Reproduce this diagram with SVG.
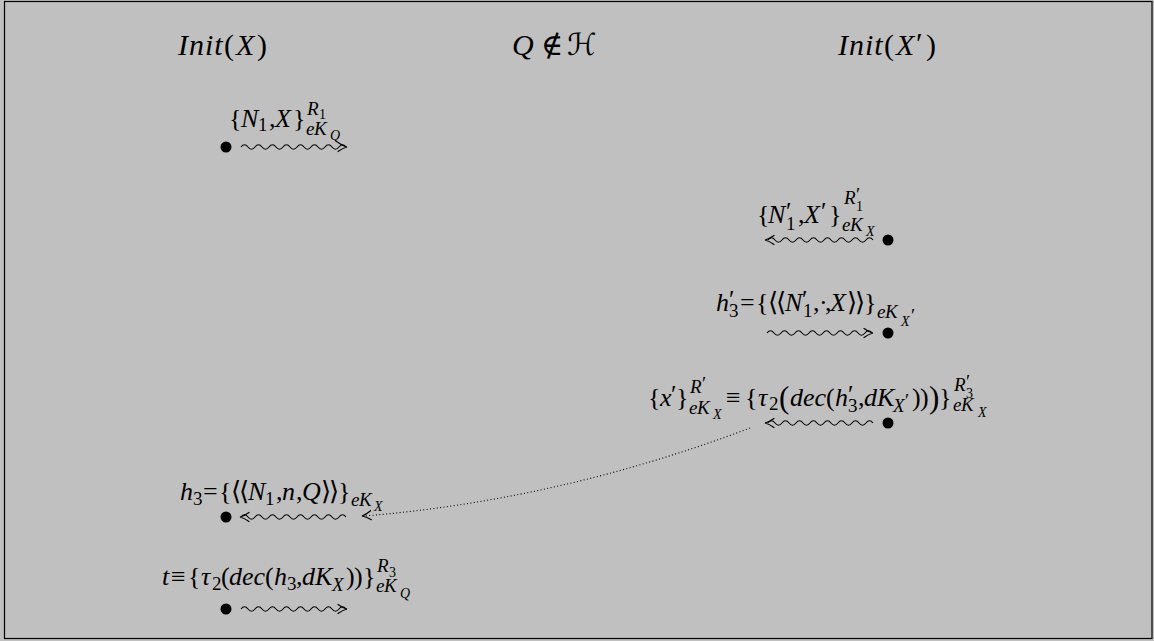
<svg xmlns="http://www.w3.org/2000/svg" xmlns:xlink="http://www.w3.org/1999/xlink" width="1154" height="641" viewBox="0 0 1154 641">
<style>
text { font-family: "Liberation Serif", "DejaVu Serif", "DejaVu Sans", serif; font-style: italic; fill: #000; font-size: 26px; }
.t { font-size: 30px; }
.s { font-size: 19px; }
.ss { font-size: 14px; }
.b { font-size: 31px; }
.p { font-size: 25px; font-style: normal; }
.ps { font-size: 19px; font-style: normal; }
.u { font-style: normal; }
.wave { fill: none; stroke: #000; stroke-width: 1.1; }
.ah { fill: none; stroke: #000; stroke-width: 1.2; stroke-linecap: round; }
.dot { fill: #000; }
.dotted { fill: none; stroke: #000; stroke-width: 1.1; stroke-dasharray: 1 2.4; }
</style>
<defs>
<path id="ah" class="ah" d="M -9 -4.5 C -5.5 -2 -2.5 -0.6 0 0 C -2.5 0.6 -5.5 2 -9 4.5"/>
</defs>
<rect x="0" y="0" width="1154" height="641" fill="#c0c0c0"/>
<rect x="4.5" y="1.5" width="1147.5" height="637" fill="none" stroke="#000" stroke-width="1.2"/>

<g id="title-init-x">
<text class="t"><tspan x="178" y="55" letter-spacing="1">Init</tspan><tspan class="u" x="224" y="55">(</tspan><tspan x="236" y="55">X</tspan><tspan class="u" x="257" y="55">)</tspan></text>
</g>
<g id="title-q">
<text class="t"><tspan x="512" y="55">Q</tspan><tspan class="u" x="541" y="55">∉</tspan><tspan x="567" y="55">ℋ</tspan></text>
</g>
<g id="title-init-x2">
<text class="t"><tspan x="838" y="55" letter-spacing="1">Init</tspan><tspan class="u" x="884" y="55">(</tspan><tspan x="896" y="55">X</tspan><tspan class="u" x="916" y="53">′</tspan><tspan class="u" x="926" y="55">)</tspan></text>
</g>

<g id="connectors">
<path class="wave" d="M 241 147 q 3.5 -4.4 7 0 t 7 0 t 7 0 t 7 0 t 7 0 t 7 0 t 7 0 t 7 0 t 7 0 t 7 0 t 7 0 t 7 0 t 7 0 t 7 0 t 7 0"/>
<use xlink:href="#ah" href="#ah" transform="translate(347,147)"/>
<path class="wave" d="M 873 240 q -3.5 -4.4 -7 0 t -7 0 t -7 0 t -7 0 t -7 0 t -7 0 t -7 0 t -7 0 t -7 0 t -7 0 t -7 0 t -7 0 t -7 0 t -7 0 t -7 0"/>
<use xlink:href="#ah" href="#ah" transform="translate(765,240) rotate(180)"/>
<path class="wave" d="M 767 333 q 3.5 -4.4 7 0 t 7 0 t 7 0 t 7 0 t 7 0 t 7 0 t 7 0 t 7 0 t 7 0 t 7 0 t 7 0 t 7 0 t 7 0 t 7 0 t 7 0"/>
<use xlink:href="#ah" href="#ah" transform="translate(873,333)"/>
<path class="wave" d="M 873 423 q -3.5 -4.4 -7 0 t -7 0 t -7 0 t -7 0 t -7 0 t -7 0 t -7 0 t -7 0 t -7 0 t -7 0 t -7 0 t -7 0 t -7 0 t -7 0 t -7 0"/>
<use xlink:href="#ah" href="#ah" transform="translate(765,423) rotate(180)"/>
<path class="wave" d="M 346 517 q -3.5 -4.4 -7 0 t -7 0 t -7 0 t -7 0 t -7 0 t -7 0 t -7 0 t -7 0 t -7 0 t -7 0 t -7 0 t -7 0 t -7 0 t -7 0 t -7 0"/>
<use xlink:href="#ah" href="#ah" transform="translate(240,517) rotate(180)"/>
<path class="wave" d="M 241 609 q 3.5 -4.4 7 0 t 7 0 t 7 0 t 7 0 t 7 0 t 7 0 t 7 0 t 7 0 t 7 0 t 7 0 t 7 0 t 7 0 t 7 0 t 7 0 t 7 0"/>
<use xlink:href="#ah" href="#ah" transform="translate(347,609)"/>
<path class="dotted" d="M 750 428 Q 560 500 364 516"/>
<use xlink:href="#ah" href="#ah" transform="translate(362,516) rotate(175)"/>
</g>

<g id="node1">
<circle class="dot" cx="226" cy="147" r="5.5"/>
<text><tspan class="u" x="229" y="127">{</tspan><tspan x="241" y="127">N</tspan><tspan class="s u" x="258" y="131">1</tspan><tspan class="u" x="269" y="127">,</tspan><tspan x="275" y="127">X</tspan><tspan class="u" x="293" y="127">}</tspan><tspan class="s" x="307" y="115">R</tspan><tspan class="ss u" x="319" y="119">1</tspan><tspan class="s" x="306" y="135">e</tspan><tspan class="s" x="314" y="135">K</tspan><tspan class="ss" x="330" y="140">Q</tspan></text>
</g>

<g id="node2">
<circle class="dot" cx="888" cy="240" r="5.5"/>
<text><tspan class="u" x="757" y="223">{</tspan><tspan x="768" y="223">N</tspan><tspan class="p" x="786" y="220">′</tspan><tspan class="s u" x="786" y="230">1</tspan><tspan class="u" x="798" y="223">,</tspan><tspan x="804" y="223">X</tspan><tspan class="p" x="821" y="220">′</tspan><tspan class="u" x="829" y="223">}</tspan><tspan class="s" x="844" y="204">R</tspan><tspan class="ps" x="856" y="201">′</tspan><tspan class="ss u" x="856" y="211">1</tspan><tspan class="s" x="842" y="231">e</tspan><tspan class="s" x="850" y="231">K</tspan><tspan class="ss" x="866" y="236">X</tspan></text>
</g>

<g id="node3">
<circle class="dot" cx="888" cy="333" r="5.5"/>
<text><tspan x="716" y="311">h</tspan><tspan class="p" x="729" y="308">′</tspan><tspan class="s u" x="729" y="317">3</tspan><tspan class="u" x="740" y="311">=</tspan><tspan class="u" x="756" y="311">{</tspan><tspan class="u" x="768" y="311">⟨</tspan><tspan class="u" x="776" y="311">⟨</tspan><tspan x="785" y="311">N</tspan><tspan class="p" x="802" y="308">′</tspan><tspan class="s u" x="803" y="317">1</tspan><tspan class="u" x="813" y="311">,</tspan><tspan class="u" x="819" y="311">·</tspan><tspan class="u" x="825" y="311">,</tspan><tspan x="830" y="311">X</tspan><tspan class="u" x="847" y="311">⟩</tspan><tspan class="u" x="855" y="311">⟩</tspan><tspan class="u" x="864" y="311">}</tspan><tspan class="s" x="877" y="318">e</tspan><tspan class="s" x="885" y="318">K</tspan><tspan class="ss" x="901" y="326">X</tspan><tspan class="ps" x="911" y="322">′</tspan></text>
</g>

<g id="node4">
<circle class="dot" cx="888" cy="423" r="5.5"/>
<text><tspan class="u" x="648" y="406">{</tspan><tspan x="660" y="406">x</tspan><tspan class="p" x="671" y="403">′</tspan><tspan class="u" x="676" y="406">}</tspan><tspan class="s" x="690" y="393">R</tspan><tspan class="ps" x="702" y="390">′</tspan><tspan class="s" x="689" y="414">e</tspan><tspan class="s" x="697" y="414">K</tspan><tspan class="ss" x="713" y="419">X</tspan><tspan class="u" x="726" y="406">≡</tspan><tspan class="u" x="745" y="406">{</tspan><tspan x="758" y="406">τ</tspan><tspan class="s u" x="769" y="410">2</tspan><tspan class="b u" x="779" y="408">(</tspan><tspan x="790" y="406">dec</tspan><tspan class="u" x="826" y="406">(</tspan><tspan x="835" y="406">h</tspan><tspan class="p" x="848" y="403">′</tspan><tspan class="s u" x="848" y="412">3</tspan><tspan class="u" x="858" y="406">,</tspan><tspan x="864" y="406">d</tspan><tspan x="877" y="406">K</tspan><tspan class="s" x="893" y="412">X</tspan><tspan class="ps" x="905" y="407">′</tspan><tspan class="u" x="912" y="406">)</tspan><tspan class="u" x="920" y="406">)</tspan><tspan class="b u" x="929" y="408">)</tspan><tspan class="u" x="939" y="406">}</tspan><tspan class="s" x="954" y="391">R</tspan><tspan class="ps" x="966" y="388">′</tspan><tspan class="ss u" x="966" y="398">3</tspan><tspan class="s" x="953" y="411">e</tspan><tspan class="s" x="961" y="411">K</tspan><tspan class="ss" x="978" y="417">X</tspan></text>
</g>

<g id="node5">
<circle class="dot" cx="226" cy="517" r="5.5"/>
<text><tspan x="180" y="500">h</tspan><tspan class="s u" x="193" y="505">3</tspan><tspan class="u" x="203" y="500">=</tspan><tspan class="u" x="219" y="500">{</tspan><tspan class="u" x="231" y="500">⟨</tspan><tspan class="u" x="239" y="500">⟨</tspan><tspan x="248" y="500">N</tspan><tspan class="s u" x="265" y="505">1</tspan><tspan class="u" x="276" y="500">,</tspan><tspan x="282" y="500">n</tspan><tspan class="u" x="296" y="500">,</tspan><tspan x="302" y="500">Q</tspan><tspan class="u" x="321" y="500">⟩</tspan><tspan class="u" x="329" y="500">⟩</tspan><tspan class="u" x="338" y="500">}</tspan><tspan class="s" x="351" y="506">e</tspan><tspan class="s" x="359" y="506">K</tspan><tspan class="ss" x="374" y="511">X</tspan></text>
</g>

<g id="node6">
<circle class="dot" cx="226" cy="609" r="5.5"/>
<text><tspan x="162" y="585">t</tspan><tspan class="u" x="171" y="585">≡</tspan><tspan class="u" x="188" y="585">{</tspan><tspan x="201" y="585">τ</tspan><tspan class="s u" x="212" y="590">2</tspan><tspan class="u" x="221" y="585">(</tspan><tspan x="229" y="585">dec</tspan><tspan class="u" x="265" y="585">(</tspan><tspan x="274" y="585">h</tspan><tspan class="s u" x="287" y="590">3</tspan><tspan class="u" x="296" y="585">,</tspan><tspan x="302" y="585">d</tspan><tspan x="315" y="585">K</tspan><tspan class="s" x="332" y="591">X</tspan><tspan class="u" x="346" y="585">)</tspan><tspan class="u" x="354" y="585">)</tspan><tspan class="u" x="363" y="585">}</tspan><tspan class="s" x="377" y="572">R</tspan><tspan class="ss u" x="389" y="577">3</tspan><tspan class="s" x="376" y="592">e</tspan><tspan class="s" x="384" y="592">K</tspan><tspan class="ss" x="400" y="598">Q</tspan></text>
</g>
</svg>
